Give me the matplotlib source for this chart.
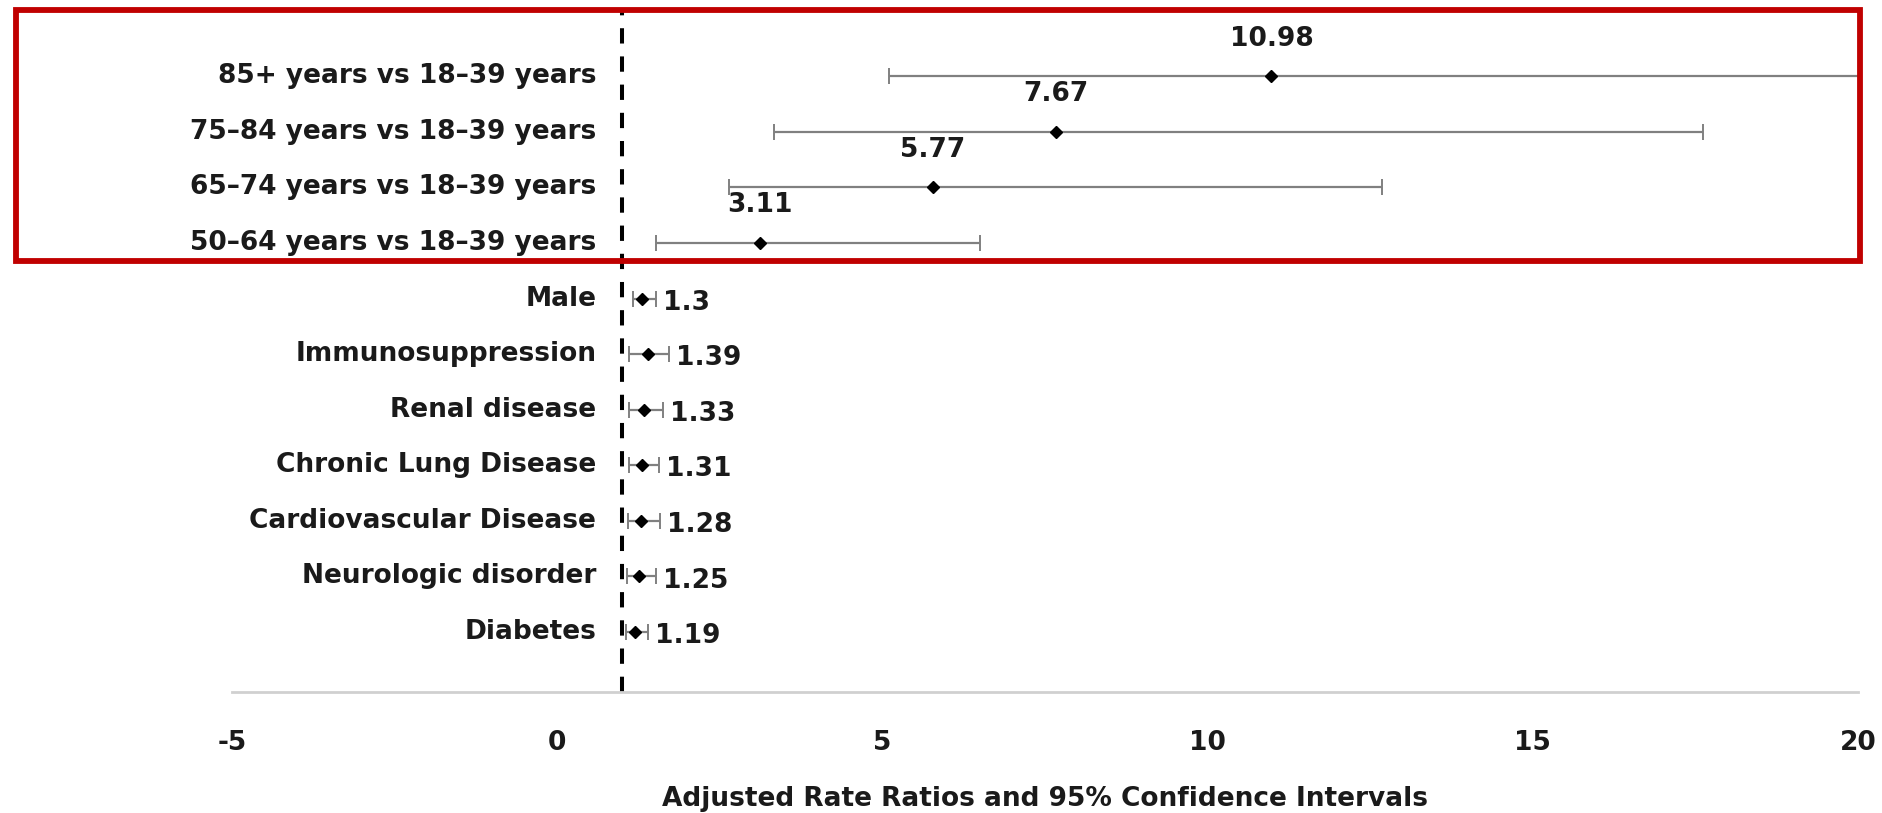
import numpy as np
import matplotlib.pyplot as plt
from matplotlib.patches import Rectangle

plt.rcParams['font.family'] = ['DejaVu Sans']
plt.rcParams['font.weight'] = 'bold'

labels = ['85+ years vs 18\u201339 years', '75\u201384 years vs 18\u201339 years',
          '65\u201374 years vs 18\u201339 years', '50\u201364 years vs 18\u201339 years',
          'Male', 'Immunosuppression', 'Renal disease', 'Chronic Lung Disease',
          'Cardiovascular Disease', 'Neurologic disorder', 'Diabetes']
rr = [10.98, 7.67, 5.77, 3.11, 1.3, 1.39, 1.33, 1.31, 1.28, 1.25, 1.19]
lo = [5.10, 3.33, 2.64, 1.52, 1.16, 1.11, 1.11, 1.11, 1.08, 1.07, 1.05]
hi = [23.5, 17.62, 12.68, 6.50, 1.52, 1.72, 1.62, 1.56, 1.58, 1.52, 1.40]
is_age = [True, True, True, True, False, False, False, False, False, False, False]

rr = np.array(rr)
lo = np.array(lo)
hi = np.array(hi)
y = np.arange(len(labels))[::-1]

txt = '#1a1a1a'
fs = 19

fig = plt.figure(figsize=(18.82, 8.13), dpi=100)
ax = fig.add_axes([0.1233, 0.1488, 0.864, 0.836])

ax.errorbar(rr, y, xerr=[rr - lo, hi - rr], fmt='none', ecolor='#808080',
            elinewidth=1.6, capsize=6, capthick=1.4, zorder=2)
ax.plot(rr, y, 'D', color='black', markersize=6, zorder=3, clip_on=False)

ax.axvline(1, color='black', lw=2.9, ls=(0, (3.8, 3.2)), zorder=1)

for i in range(len(labels)):
    ax.text(0.224, y[i], labels[i], transform=ax.get_yaxis_transform(),
            ha='right', va='center', fontsize=fs, color=txt, fontweight='bold')
    if is_age[i]:
        ax.annotate(f'{rr[i]:g}', (rr[i], y[i]), xytext=(0, 27),
                    textcoords='offset points', ha='center', va='center',
                    fontsize=fs, color=txt, fontweight='bold')
    else:
        ax.annotate(f'{rr[i]:g}', (hi[i], y[i]), xytext=(5, -3),
                    textcoords='offset points', ha='left', va='center',
                    fontsize=fs, color=txt, fontweight='bold')

ax.set_xlim(-5, 20)
ax.set_ylim(-1.08, 11.15)
ax.set_xticks([-5, 0, 5, 10, 15, 20])
ax.set_xticklabels(['-5', '0', '5', '10', '15', '20'], fontsize=fs, fontweight='bold')
ax.tick_params(axis='x', length=0, pad=27, colors=txt)
ax.set_yticks([])
for s in ['top', 'right', 'left']:
    ax.spines[s].set_visible(False)
ax.spines['bottom'].set_color('#d0d0d0')
ax.spines['bottom'].set_linewidth(2)
ax.set_xlabel('Adjusted Rate Ratios and 95% Confidence Intervals',
              fontsize=fs, fontweight='bold', labelpad=22, color=txt)

# red highlight box around age groups
box = Rectangle((16 / 1882, 1 - 261 / 813), (1860 - 16) / 1882, (261 - 10) / 813,
                transform=fig.transFigure, fill=False, edgecolor='#c00000',
                linewidth=4.2, zorder=10)
fig.patches.append(box)

fig.savefig('out.png', dpi=100)
